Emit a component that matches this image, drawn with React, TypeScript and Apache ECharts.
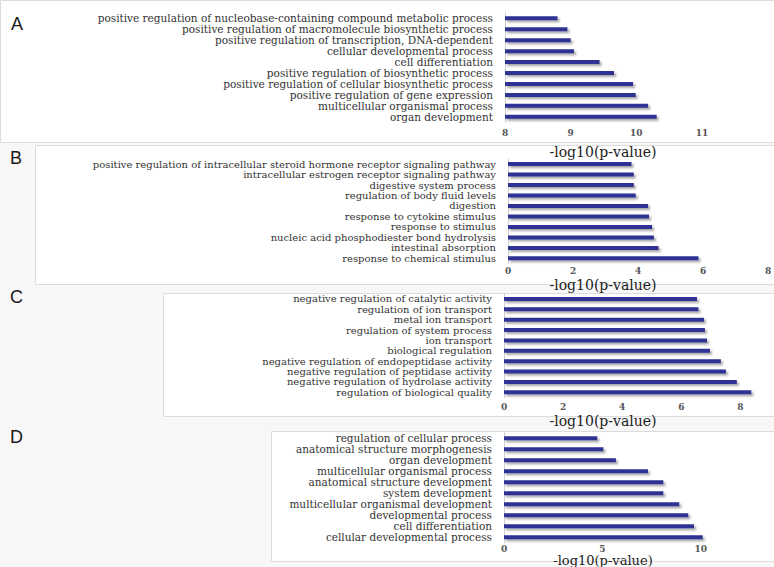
import React, { useEffect, useRef } from "react";
import * as echarts from "echarts";

const catsA = [
  "positive regulation of nucleobase-containing compound metabolic process",
  "positive regulation of macromolecule biosynthetic process",
  "positive regulation of transcription, DNA-dependent",
  "cellular developmental process",
  "cell differentiation",
  "positive regulation of biosynthetic process",
  "positive regulation of cellular biosynthetic process",
  "positive regulation of gene expression",
  "multicellular organismal process",
  "organ development",
];
const valsA = [8.8, 8.95, 9.0, 9.05, 9.44, 9.66, 9.95, 9.99, 10.18, 10.31];

const catsB = [
  "positive regulation of intracellular steroid hormone receptor signaling pathway",
  "intracellular estrogen receptor signaling pathway",
  "digestive system process",
  "regulation of body fluid levels",
  "digestion",
  "response to cytokine stimulus",
  "response to stimulus",
  "nucleic acid phosphodiester bond hydrolysis",
  "intestinal absorption",
  "response to chemical stimulus",
];
const valsB = [3.8, 3.87, 3.87, 3.93, 4.31, 4.34, 4.43, 4.49, 4.63, 5.86];

const catsC = [
  "negative regulation of catalytic activity",
  "regulation of ion transport",
  "metal ion transport",
  "regulation of system process",
  "ion transport",
  "biological regulation",
  "negative regulation of endopeptidase activity",
  "negative regulation of peptidase activity",
  "negative regulation of hydrolase activity",
  "regulation of biological quality",
];
const valsC = [6.53, 6.58, 6.77, 6.8, 6.87, 6.97, 7.34, 7.51, 7.88, 8.37];

const catsD = [
  "regulation of cellular process",
  "anatomical structure morphogenesis",
  "organ development",
  "multicellular organismal process",
  "anatomical structure development",
  "system development",
  "multicellular organismal development",
  "developmental process",
  "cell differentiation",
  "cellular developmental process",
];
const valsD = [4.74, 5.05, 5.69, 7.32, 8.1, 8.1, 8.91, 9.37, 9.66, 10.1];

const panelLetters = ["A", "B", "C", "D"];
const axisTitle = "-log10(p-value)";

const SERIF = "DejaVu Serif";
const BAR = "#2e3192";

export default function App() {
  const ref = useRef<HTMLDivElement>(null);
  useEffect(() => {
    if (!ref.current) return;
    const chart = echarts.init(ref.current, null, { renderer: "svg" });

    const panels = [
      { cats: catsA, vals: valsA, left: 505, width: 197, top: 12.9, height: 109.3, min: 8, max: 11, interval: 1, showMax: true, margin: 6, fs: 10.5 },
      { cats: catsB, vals: valsB, left: 508, width: 260, top: 158.8, height: 104.8, min: 0, max: 8, interval: 2, showMax: true, margin: 3, fs: 10 },
      { cats: catsC, vals: valsC, left: 504, width: 260, top: 293.8, height: 103.7, min: 0, max: 8.8, interval: 2, showMax: false, margin: 5, fs: 10 },
      { cats: catsD, vals: valsD, left: 504, width: 255.7, top: 432.8, height: 110, min: 0, max: 13, interval: 5, showMax: false, margin: 2, fs: 10.5 },
    ];

    const grid = panels.map((p) => ({
      left: p.left,
      width: p.width,
      top: p.top,
      height: p.height,
      containLabel: false,
      outerBoundsMode: "none",
    }));
    const xAxis = panels.map((p, i) => ({
      type: "value",
      gridIndex: i,
      min: p.min,
      max: p.max,
      interval: p.interval,
      axisLine: { show: false },
      axisTick: { show: false },
      splitLine: { show: false },
      axisLabel: {
        fontFamily: SERIF,
        fontSize: 9,
        fontWeight: "bold",
        color: "#555",
        margin: p.margin,
        showMaxLabel: p.showMax,
      },
    }));
    const yAxis = panels.map((p, i) => ({
      type: "category",
      gridIndex: i,
      inverse: true,
      data: p.cats,
      axisLine: { show: true, lineStyle: { color: "#d0d0d0", width: 1 } },
      axisTick: { show: false },
      splitLine: { show: false },
      axisLabel: {
        interval: 0,
        fontFamily: SERIF,
        fontSize: p.fs,
        lineHeight: 9.5,
        color: "#333",
        margin: 12,
      },
    }));
    const series = panels.map((p, i) => ({
      type: "bar",
      xAxisIndex: i,
      yAxisIndex: i,
      data: p.vals,
      barWidth: 4,
      itemStyle: {
        color: BAR,
        shadowColor: "rgba(0,0,0,0.35)",
        shadowBlur: 2,
        shadowOffsetX: 2,
        shadowOffsetY: 2,
      },
    }));

    const frames = [
      { x: 0, y: 0, w: 774, h: 142 },
      { x: 35, y: 145, w: 760, h: 139 },
      { x: 163, y: 293, w: 640, h: 123 },
      { x: 271, y: 431, w: 540, h: 130 },
    ];
    const letterPos = [
      { x: 11, y: 24 },
      { x: 10, y: 158 },
      { x: 10, y: 297 },
      { x: 10, y: 437 },
    ];
    const titleY = [152, 285, 421, 560.5];

    const graphic: any[] = [];
    frames.forEach((f) => {
      graphic.push({
        type: "rect",
        z: -10,
        silent: true,
        shape: { x: f.x + 0.5, y: f.y + 0.5, width: f.w, height: f.h },
        style: { fill: "#ffffff", stroke: "#dcdcdc", lineWidth: 1 },
      });
    });
    panelLetters.forEach((l, i) => {
      graphic.push({
        type: "text",
        z: 100,
        x: letterPos[i].x,
        y: letterPos[i].y,
        style: {
          text: l,
          fontFamily: "Liberation Sans",
          fontSize: 18,
          fill: "#1a1a1a",
          textVerticalAlign: "middle",
        },
      });
    });
    titleY.forEach((y, i) => {
      graphic.push({
        type: "text",
        z: 100,
        x: 603,
        y,
        style: {
          text: axisTitle,
          fontFamily: SERIF,
          fontSize: i === 3 ? 13 : 14,
          fill: "#222",
          textAlign: "center",
          textVerticalAlign: "middle",
        },
      });
    });

    chart.setOption({
      animation: false,
      backgroundColor: "#f8f7f7",
      grid,
      xAxis,
      yAxis,
      series,
      graphic,
    } as any);

    return () => chart.dispose();
  }, []);

  return (
    <div
      ref={ref}
      style={{ position: "fixed", left: 0, top: 0, width: 774, height: 567 }}
    />
  );
}
